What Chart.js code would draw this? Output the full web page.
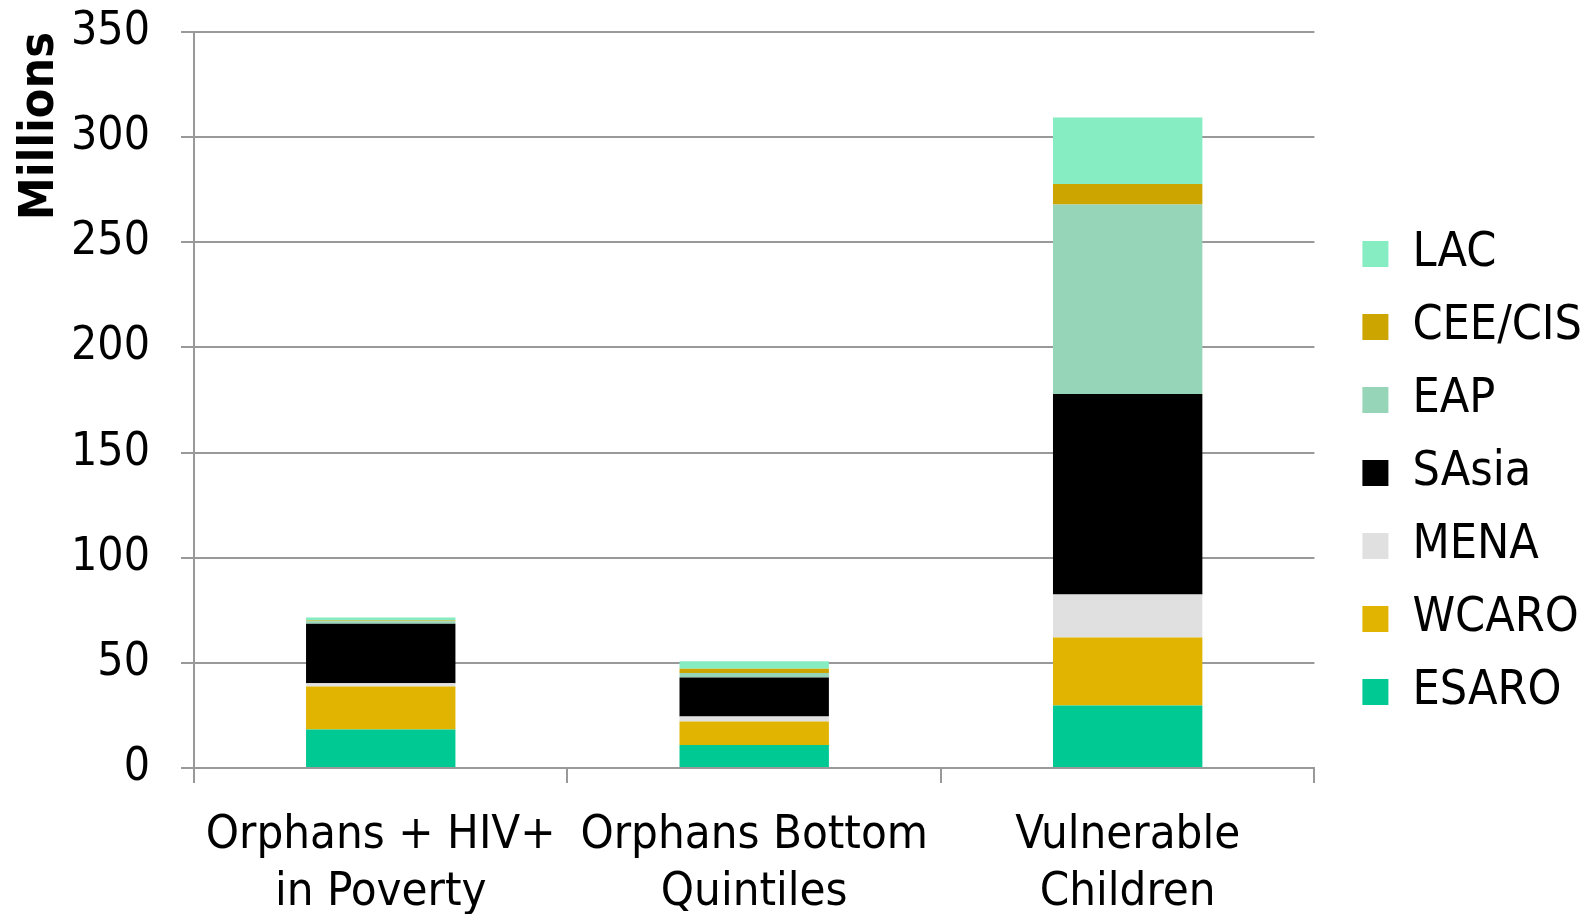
<!DOCTYPE html>
<html>
<head>
<meta charset="utf-8">
<script src="https://cdn.jsdelivr.net/npm/chart.js@4/dist/chart.umd.min.js"></script>
<style>
  html, body { margin: 0; padding: 0; background: #ffffff; }
  #wrap { width: 1592px; height: 914px; }
</style>
</head>
<body>
<div id="wrap"><canvas id="c" width="1592" height="914"></canvas></div>
<script>
// Categories (multi-line x labels)
const categories = [
  ["Orphans + HIV+", "in Poverty"],
  ["Orphans Bottom", "Quintiles"],
  ["Vulnerable", "Children"]
];

// Regional breakdown, millions of children
const ESARO = [18.3, 10.9, 29.7];
const WCARO = [20.4, 11.2, 32.4];
const MENA  = [1.6, 2.4, 20.4];
const SAsia = [28.3, 18.5, 95.4];
const EAP   = [1.2, 2.2, 90.1];
const CEECIS = [0.3, 2.0, 9.7];
const LAC   = [1.5, 3.6, 31.6];

const yTicks = [0, 50, 100, 150, 200, 250, 300, 350];

const FONT = "'DejaVu Sans Condensed', 'DejaVu Sans', sans-serif";
const GRID = '#999999';

const series = [
  { label: 'ESARO',   data: ESARO,  color: '#00C994' },
  { label: 'WCARO',   data: WCARO,  color: '#E0B400' },
  { label: 'MENA',    data: MENA,   color: '#E0E0E0' },
  { label: 'SAsia',   data: SAsia,  color: '#000000' },
  { label: 'EAP',     data: EAP,    color: '#96D5B8' },
  { label: 'CEE/CIS', data: CEECIS, color: '#CDA500' },
  { label: 'LAC',     data: LAC,    color: '#86ECC2' }
];

new Chart(document.getElementById('c'), {
  type: 'bar',
  data: {
    labels: categories,
    datasets: series.map(s => ({
      label: s.label,
      data: s.data,
      backgroundColor: s.color,
      borderWidth: 0,
      categoryPercentage: 1.0,
      barPercentage: 0.4
    }))
  },
  options: {
    responsive: false,
    devicePixelRatio: 1,
    animation: false,
    layout: { padding: { top: 32, right: 0, bottom: 0, left: 0 } },
    plugins: {
      tooltip: { enabled: false },
      legend: {
        position: 'right',
        reverse: true,
        labels: {
          boxWidth: 26,
          boxHeight: 26,
          padding: 25,
          color: '#000000',
          font: { family: FONT, size: 48, lineHeight: 1.2 }
        }
      }
    },
    scales: {
      x: {
        stacked: true,
        grid: {
          offset: true,
          drawOnChartArea: false,
          drawTicks: true,
          tickLength: 15,
          color: GRID,
          lineWidth: 2
        },
        border: { color: GRID, width: 2 },
        ticks: {
          color: '#000000',
          padding: 25,
          maxRotation: 0,
          autoSkip: false,
          font: { family: FONT, size: 47, lineHeight: 1.2 }
        },
        afterFit: s => { s.height = 146; }
      },
      y: {
        stacked: true,
        min: 0,
        max: 350,
        afterBuildTicks: s => { s.ticks = yTicks.map(v => ({ value: v })); },
        grid: {
          color: GRID,
          lineWidth: 2,
          tickLength: 13
        },
        border: { color: GRID, width: 2 },
        ticks: {
          color: '#000000',
          padding: 31,
          font: { family: FONT, size: 46 }
        },
        title: {
          display: true,
          text: 'Millions',
          align: 'end',
          color: '#000000',
          padding: { top: 12, bottom: 0 },
          font: { family: FONT, size: 48, weight: 'bold' }
        },
        afterFit: s => { s.width = 194; s.paddingTop = 0; s.paddingBottom = 0; }
      },
      gap: {
        type: 'linear',
        position: 'right',
        display: true,
        grid: { display: false, drawTicks: false },
        border: { display: false },
        ticks: { display: false },
        afterFit: s => { s.width = 23; }
      }
    }
  }
});
</script>
</body>
</html>
